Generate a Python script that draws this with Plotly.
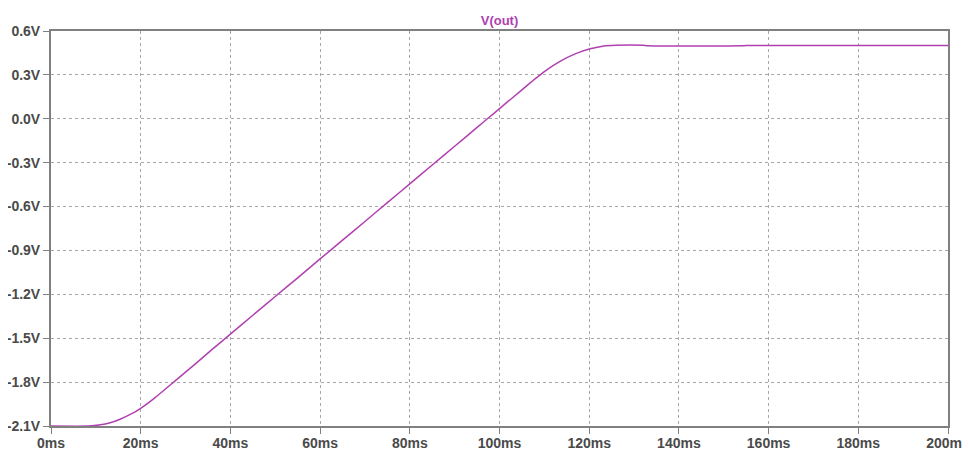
import plotly.graph_objects as go

# Time (ms) and output voltage (V)
time_ms = [0, 8.3, 11, 13, 15.4, 18, 20, 23, 28, 32, 36, 40, 45, 50, 55, 60, 65,
           70, 75, 80, 85, 90, 95, 97.3, 100, 105, 107.7, 110, 113.4, 117, 120,
           123, 126, 132, 133, 154, 155, 200]
v_out = [-2.1, -2.1, -2.092, -2.080, -2.054, -2.016, -1.979, -1.911, -1.783,
         -1.680, -1.575, -1.472, -1.343, -1.215, -1.087, -0.958, -0.830, -0.702,
         -0.573, -0.445, -0.316, -0.188, -0.059, 0.0, 0.069, 0.198, 0.267, 0.323,
         0.391, 0.445, 0.477, 0.496, 0.502, 0.502, 0.499, 0.499, 0.501, 0.501]

x_tickvals = [0, 20, 40, 60, 80, 100, 120, 140, 160, 180, 200]
x_ticktext = ["0ms", "20ms", "40ms", "60ms", "80ms", "100ms", "120ms", "140ms",
              "160ms", "180ms", "200ms"]
y_tickvals = [0.6, 0.3, 0.0, -0.3, -0.6, -0.9, -1.2, -1.5, -1.8, -2.1]
y_ticktext = ["0.6V", "0.3V", "0.0V", "-0.3V", "-0.6V", "-0.9V", "-1.2V", "-1.5V",
              "-1.8V", "-2.1V"]

trace_color = "#B040B0"
axis_color = "#808080"
grid_color = "#A8A8A8"
label_color = "#4A4A4A"

fig = go.Figure()
fig.add_trace(go.Scatter(x=time_ms, y=v_out, mode="lines", line_shape="spline",
                         line=dict(color=trace_color, width=1.5, smoothing=0.6),
                         name="V(out)", showlegend=False, hoverinfo="skip"))

axis_common = dict(
    showline=True, linecolor=axis_color, linewidth=2, mirror=True,
    showgrid=True, gridcolor=grid_color, gridwidth=1, griddash="3px,3px",
    zeroline=False, ticks="outside", ticklen=6, tickcolor=axis_color, tickwidth=1,
    tickfont=dict(family="Liberation Sans, Arial, sans-serif", size=14,
                  color=label_color, weight="bold"),
    layer="below traces", automargin=False, ticklabeloverflow="allow",
)

fig.update_xaxes(range=[0, 200], tickvals=x_tickvals, ticktext=x_ticktext,
                 ticklabelstandoff=-3, **axis_common)
fig.update_yaxes(range=[-2.1, 0.6], tickvals=y_tickvals, ticktext=y_ticktext,
                 **axis_common)

# The page body adds an 8px offset, so the figure is sized to fit the window
# and margins are shifted to land the plot area where the reference has it.
fig.update_layout(
    width=962, height=441,
    margin=dict(l=43, r=22, t=23, b=23, autoexpand=False),
    paper_bgcolor="white", plot_bgcolor="white",
    title=dict(text="V(out)", x=0.5, xref="paper", xanchor="center",
               y=1 - 12 / 441, yref="container", yanchor="middle",
               font=dict(family="Liberation Sans, Arial, sans-serif", size=13,
                         color=trace_color, weight="bold")),
)

fig.write_html("out.html")
